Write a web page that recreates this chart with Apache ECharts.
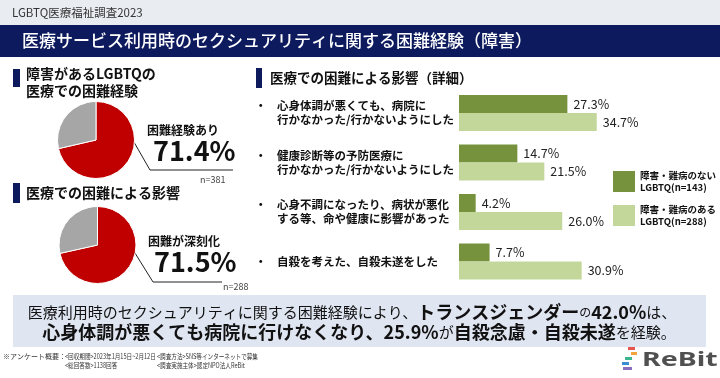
<!DOCTYPE html>
<html><head><meta charset="utf-8">
<script src="https://cdn.jsdelivr.net/npm/echarts@6/dist/echarts.min.js"></script>
<style>html,body{margin:0;padding:0;background:#fff}#c{width:720px;height:378px}</style>
</head><body><div id="c"></div>
<script>
const categories = [
  '心身体調が悪くても、病院に\n行かなかった/行かないようにした',
  '健康診断等の予防医療に\n行かなかった/行かないようにした',
  '心身不調になったり、病状が悪化\nする等、命や健康に影響があった',
  '自殺を考えた、自殺未遂をした'
];
const seriesNames = ['障害・難病のない\nLGBTQ(n=143)', '障害・難病のある\nLGBTQ(n=288)'];
const noDisability = [27.3, 14.7, 4.2, 7.7];
const withDisability = [34.7, 21.5, 26.0, 30.9];
const pie1Names = ['困難経験あり', 'なし'];
const pie1Values = [71.4, 28.6];
const pie2Names = ['困難が深刻化', 'その他'];
const pie2Values = [71.5, 28.5];

const JP = '"Noto Sans CJK JP", sans-serif';
const NAVY = '#0d1b5e';
const chart = echarts.init(document.getElementById('c'), null, {renderer: 'canvas'});

function pieData(names, vals) {
  return vals.map((v, i) => ({
    name: names[i], value: v,
    itemStyle: {color: i === 0 ? '#c00000' : '#a6a6a6'},
    label: {show: i === 0}
  }));
}
function pieSeries(names, vals, center, lx, ly) {
  return {
    type: 'pie', center: center, radius: [0, 38.5], startAngle: 90, clockwise: true,
    silent: true, animation: false,
    itemStyle: {borderColor: '#fff', borderWidth: 1},
    data: pieData(names, vals),
    label: {
      show: false, position: 'outside',
      formatter: p => '{a|' + p.name + '}\n{b|' + p.value.toFixed(1) + '%}',
      rich: {
        a: {fontFamily: JP, fontSize: 12, fontWeight: 'bold', color: '#111', lineHeight: 14},
        b: {fontFamily: JP, fontSize: 27, fontWeight: 'bold', color: '#111', lineHeight: 28, padding: [0, 0, 0, 6]}
      }
    },
    labelLine: {show: false},
    labelLayout: p => p.dataIndex === 0 ? {x: lx, y: ly, align: 'left', verticalAlign: 'top'} : {}
  };
}
function foot(x, y, text, sx) {
  return {type: 'text', x: x, y: y, scaleX: sx, style: {text: text, fontFamily: JP, fontSize: 7, fill: '#333', verticalAlign: 'middle'}};
}

const option = {
  animation: false,
  backgroundColor: '#fff',
  grid: {left: 459, top: 88.25, height: 198, width: 158.8, containLabel: false},
  xAxis: {type: 'value', min: 0, max: 40, show: false},
  yAxis: {
    type: 'category', data: categories, inverse: true,
    axisLine: {show: false}, axisTick: {show: false},
    axisLabel: {
      align: 'left', margin: 204,
      formatter: v => {
        const lines = v.split('\n');
        return lines.map((l, i) => (i === 0 ? '{bul|・}' : '{sp| }') + '{t|' + l + '}').join('\n');
      },
      rich: {
        bul: {fontFamily: JP, fontSize: 11.5, fontWeight: 'bold', color: '#111', width: 22, lineHeight: 14},
        sp: {fontFamily: JP, fontSize: 11.5, width: 22, lineHeight: 14},
        t: {fontFamily: JP, fontSize: 11.5, fontWeight: 'bold', color: '#111', lineHeight: 14}
      }
    }
  },
  legend: {
    orient: 'vertical', left: 608, top: 165, itemWidth: 22, itemHeight: 21, itemGap: 11,
    icon: 'rect', selectedMode: false,
    textStyle: {fontFamily: JP, fontSize: 9.5, fontWeight: 'bold', color: '#111', lineHeight: 11.5},
    data: seriesNames
  },
  series: [
    {
      name: seriesNames[0], type: 'bar', data: noDisability, barWidth: 18, barGap: '0%',
      itemStyle: {color: '#76923c'}, silent: true,
      label: {show: true, position: 'right', distance: 6, fontFamily: JP, fontSize: 12.5, color: '#222', formatter: p => p.value.toFixed(1) + '%'}
    },
    {
      name: seriesNames[1], type: 'bar', data: withDisability, barWidth: 18, barGap: '0%',
      itemStyle: {color: '#c4d79b'}, silent: true,
      label: {show: true, position: 'right', distance: 6, fontFamily: JP, fontSize: 12.5, color: '#222', formatter: p => p.value.toFixed(1) + '%'}
    },
    pieSeries(pie1Names, pie1Values, [96, 140], 147, 123),
    pieSeries(pie2Names, pie2Values, [97.5, 245], 148, 234)
  ],
  graphic: [
    {type: 'rect', shape: {x: 0, y: 0, width: 720, height: 25}, style: {fill: '#e9ecf1'}, silent: true},
    {type: 'text', x: 12, y: 12.5, style: {text: 'LGBTQ医療福祉調査2023', fontFamily: JP, fontSize: 11.5, fill: '#333', verticalAlign: 'middle'}},
    {type: 'rect', shape: {x: 0, y: 25, width: 720, height: 32}, style: {fill: NAVY}},
    {type: 'text', x: 22, y: 41, style: {text: '医療サービス利用時のセクシュアリティに関する困難経験（障害）', fontFamily: JP, fontSize: 17, fontWeight: 500, fill: '#fff', verticalAlign: 'middle'}},
    // section headers
    {type: 'rect', shape: {x: 13, y: 69, width: 7, height: 18}, style: {fill: NAVY}},
    {type: 'text', x: 26, y: 65, style: {text: '障害があるLGBTQの\n医療での困難経験', fontFamily: JP, fontSize: 14, fontWeight: 'bold', fill: '#111', lineHeight: 17, verticalAlign: 'top'}},
    {type: 'rect', shape: {x: 13, y: 183, width: 7, height: 20}, style: {fill: NAVY}},
    {type: 'text', x: 26, y: 193, style: {text: '医療での困難による影響', fontFamily: JP, fontSize: 14, fontWeight: 'bold', fill: '#111', verticalAlign: 'middle'}},
    {type: 'rect', shape: {x: 256, y: 68, width: 6, height: 20}, style: {fill: NAVY}},
    {type: 'text', x: 270, y: 78, style: {text: '医療での困難による影響（詳細）', fontFamily: JP, fontSize: 13.5, fontWeight: 'bold', fill: '#111', verticalAlign: 'middle'}},
    // leader lines
    {type: 'polyline', shape: {points: [[123, 123], [150, 170], [233, 170]]}, style: {stroke: '#222', lineWidth: 1, fill: null}},
    {type: 'text', x: 200, y: 180, style: {text: 'n=381', fontFamily: JP, fontSize: 9, fill: '#444', verticalAlign: 'middle'}},
    {type: 'polyline', shape: {points: [[125, 237], [153, 282], [222, 282]]}, style: {stroke: '#222', lineWidth: 1, fill: null}},
    {type: 'text', x: 223, y: 287, style: {text: 'n=288', fontFamily: JP, fontSize: 9, fill: '#444', verticalAlign: 'middle'}},
    // banner
    {type: 'rect', shape: {x: 13, y: 295, width: 693, height: 52}, style: {fill: '#dfe5f1'}},
    {type: 'text', x: 352, y: 312, style: {
      text: '{r|医療利用時のセクシュアリティに関する困難経験により、}{B|トランスジェンダー}{s|の}{B|42.0%}{r|は、}',
      align: 'center', verticalAlign: 'middle',
      rich: {
        r: {fontFamily: JP, fontSize: 15, fill: '#111'},
        s: {fontFamily: JP, fontSize: 12, fill: '#111'},
        B: {fontFamily: JP, fontSize: 18, fontWeight: 'bold', fill: '#111'}
      }}},
    {type: 'text', x: 359, y: 332, style: {
      text: '{B|心身体調が悪くても病院に行けなくなり、25.9%}{r|が}{B|自殺念慮・自殺未遂}{r|を経験。}',
      align: 'center', verticalAlign: 'middle',
      rich: {
        r: {fontFamily: JP, fontSize: 15, fill: '#111'},
        B: {fontFamily: JP, fontSize: 18, fontWeight: 'bold', fill: '#111'}
      }}},
    // footnote
    foot(3, 356, '※アンケート概要：', 1),
    foot(65, 356, '<回収期間>2023年1月15日~2月12日', 0.8),
    foot(157, 356, '<調査方法>SNS等インターネットで募集', 0.8),
    foot(65, 365, '<総回答数>1138回答', 0.8),
    foot(157, 365, '<調査実施主体>認定NPO法人ReBit', 0.8),
    // logo
    {type: 'rect', shape: {x: 628, y: 347, width: 7, height: 3}, style: {fill: '#e8554e'}},
    {type: 'rect', shape: {x: 631, y: 352, width: 6, height: 3}, style: {fill: '#f3a33b'}},
    {type: 'rect', shape: {x: 625, y: 357, width: 7, height: 3}, style: {fill: '#3bb58b'}},
    {type: 'rect', shape: {x: 622, y: 362, width: 7, height: 3}, style: {fill: '#3a8fd1'}},
    {type: 'rect', shape: {x: 623, y: 367, width: 9, height: 3}, style: {fill: '#8a6fc0'}},
    {type: 'text', x: 642, y: 361, scaleX: 1.5, style: {text: 'ReBit', fontFamily: '"Noto Sans", sans-serif', fontSize: 19, fontWeight: 'bold', fill: '#505050', verticalAlign: 'middle'}}
  ]
};
chart.setOption(option);
</script></body></html>
